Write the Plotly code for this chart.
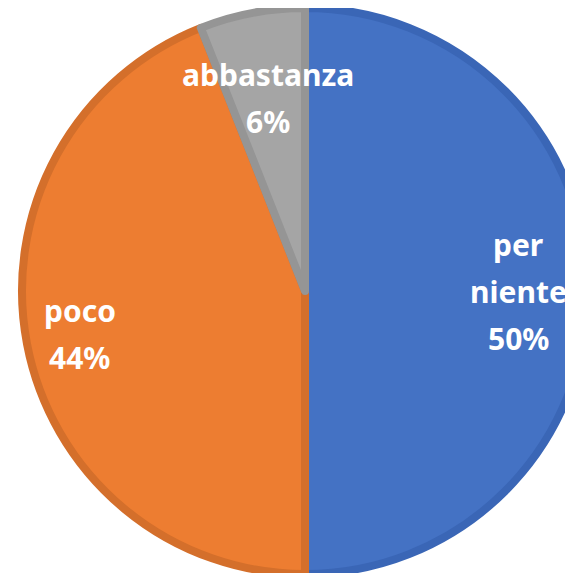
import math
import plotly.graph_objects as go

labels = ["per niente", "poco", "abbastanza"]
label_lines = [["per", "niente"], ["poco"], ["abbastanza"]]
values = [50, 44, 6]
colors = ["#4472C4", "#ED7D31", "#A5A5A5"]
border_colors = ["#3A66B6", "#D46F2B", "#959595"]
label_radius = [0.756, 0.81, 0.695]   # label distance from centre, fraction of radius

W, H = 594, 566
BORDER = 8
LINE_GAP = 47
FONT = dict(family="Noto Sans", size=30, color="white", weight="bold")

fig = go.Figure(go.Pie(
    labels=labels,
    values=values,
    sort=False,
    direction="clockwise",
    rotation=0,
    marker=dict(colors=colors, line=dict(color=border_colors, width=BORDER)),
    textinfo="none",
    hoverinfo="label+percent",
    showlegend=False,
    domain=dict(x=[0, 1], y=[0, 1]),
))

# data labels placed at each slice's mid-angle
total = sum(values)
R = min(W, H) / 2
cum = 0
annotations = []
for lab_lines, v, rf in zip(label_lines, values, label_radius):
    mid = (cum + v / 2) / total * 2 * math.pi
    cum += v
    pct = f"{round(v / total * 100)}%"
    lines = lab_lines + [pct]
    x = 0.5 + rf * R * math.sin(mid) / W
    y = 0.5 + rf * R * math.cos(mid) / H
    n = len(lines)
    for i, t in enumerate(lines):
        annotations.append(dict(
            x=x, y=y, xref="paper", yref="paper", text=t, showarrow=False,
            xanchor="center", yanchor="middle",
            yshift=((n - 1) / 2 - i) * LINE_GAP, font=FONT,
        ))

fig.update_layout(
    width=W, height=H,
    margin=dict(l=0, r=0, t=0, b=0),
    paper_bgcolor="white",
    annotations=annotations,
)
fig.write_html("out.html")
